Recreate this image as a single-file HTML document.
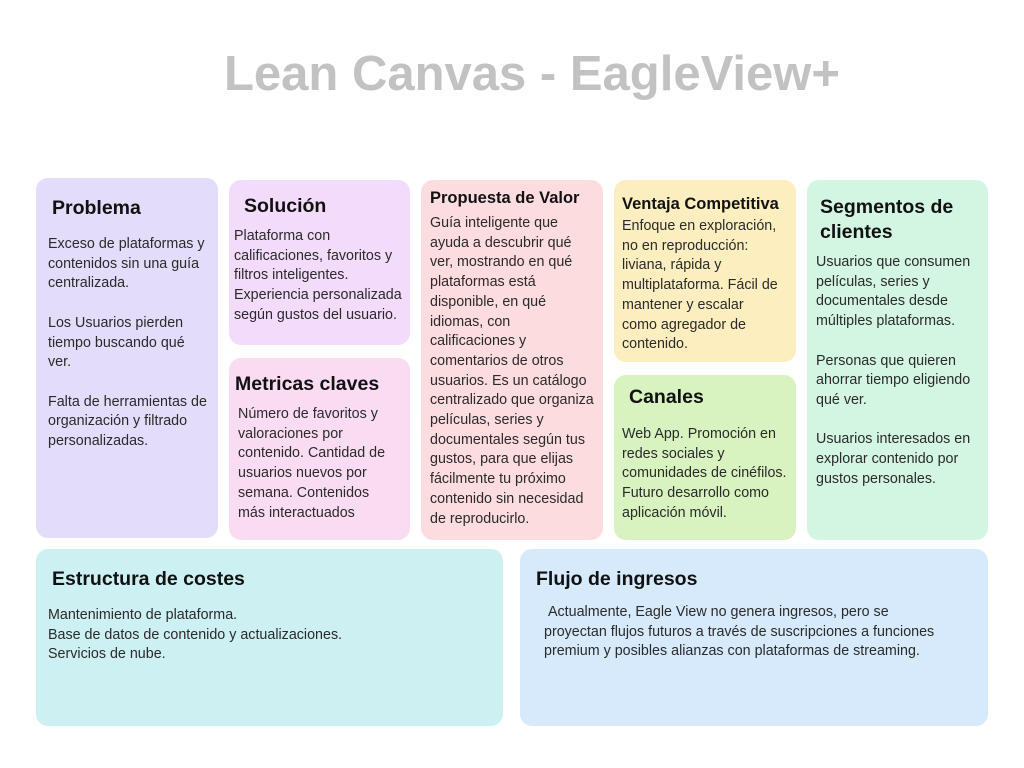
<!DOCTYPE html>
<html><head><meta charset="utf-8"><style>
body{margin:0;width:1024px;height:768px;background:#fff;position:relative;overflow:hidden;font-family:"Liberation Sans",sans-serif;color:#222}
.box{position:absolute;border-radius:12px}
.h{position:absolute;font-weight:bold;color:#111;font-size:19.5px;white-space:nowrap}
.t{position:absolute;font-size:14.3px;line-height:19.7px;white-space:nowrap;color:#2a2a2a}
#title{position:absolute;left:0;width:1064px;text-align:center;top:46px;font-size:49px;font-weight:bold;color:#c2c2c2}
</style></head><body>
<div id="title">Lean Canvas - EagleView+</div>

<div class="box" style="left:36px;top:178px;width:182px;height:360px;background:#e3dcfb"></div>
<div class="h" style="left:52px;top:197px">Problema</div>
<div class="t" style="left:48px;top:235px">Exceso de plataformas y<br>contenidos sin una guía<br>centralizada.<br><br>Los Usuarios pierden<br>tiempo buscando qué<br>ver.<br><br>Falta de herramientas de<br>organización y filtrado<br>personalizadas.</div>

<div class="box" style="left:229px;top:180px;width:181px;height:165px;background:#f3dcfb"></div>
<div class="h" style="left:244px;top:195px">Solución</div>
<div class="t" style="left:234px;top:227px">Plataforma con<br>calificaciones, favoritos y<br>filtros inteligentes.<br>Experiencia personalizada<br>según gustos del usuario.</div>

<div class="box" style="left:229px;top:358px;width:181px;height:182px;background:#fadcf2"></div>
<div class="h" style="left:235px;top:373px">Metricas claves</div>
<div class="t" style="left:238px;top:405px">Número de favoritos y<br>valoraciones por<br>contenido. Cantidad de<br>usuarios nuevos por<br>semana. Contenidos<br>más interactuados</div>

<div class="box" style="left:421px;top:180px;width:182px;height:360px;background:#fddcdf"></div>
<div class="h" style="left:430px;top:189px;font-size:16.5px">Propuesta de Valor</div>
<div class="t" style="left:430px;top:214px">Guía inteligente que<br>ayuda a descubrir qué<br>ver, mostrando en qué<br>plataformas está<br>disponible, en qué<br>idiomas, con<br>calificaciones y<br>comentarios de otros<br>usuarios. Es un catálogo<br>centralizado que organiza<br>películas, series y<br>documentales según tus<br>gustos, para que elijas<br>fácilmente tu próximo<br>contenido sin necesidad<br>de reproducirlo.</div>

<div class="box" style="left:614px;top:180px;width:182px;height:182px;background:#fdeec0"></div>
<div class="h" style="left:622px;top:195px;font-size:16.5px">Ventaja Competitiva</div>
<div class="t" style="left:622px;top:217px">Enfoque en exploración,<br>no en reproducción:<br>liviana, rápida y<br>multiplataforma. Fácil de<br>mantener y escalar<br>como agregador de<br>contenido.</div>

<div class="box" style="left:614px;top:375px;width:182px;height:165px;background:#d8f3c0"></div>
<div class="h" style="left:629px;top:386px">Canales</div>
<div class="t" style="left:622px;top:425px">Web App. Promoción en<br>redes sociales y<br>comunidades de cinéfilos.<br>Futuro desarrollo como<br>aplicación móvil.</div>

<div class="box" style="left:807px;top:180px;width:181px;height:360px;background:#d2f6e2"></div>
<div class="h" style="left:820px;top:195px;line-height:25px">Segmentos de<br>clientes</div>
<div class="t" style="left:816px;top:253px">Usuarios que consumen<br>películas, series y<br>documentales desde<br>múltiples plataformas.<br><br>Personas que quieren<br>ahorrar tiempo eligiendo<br>qué ver.<br><br>Usuarios interesados en<br>explorar contenido por<br>gustos personales.</div>

<div class="box" style="left:36px;top:549px;width:467px;height:177px;background:#cdf0f3"></div>
<div class="h" style="left:52px;top:568px">Estructura de costes</div>
<div class="t" style="left:48px;top:606px">Mantenimiento de plataforma.<br>Base de datos de contenido y actualizaciones.<br>Servicios de nube.</div>

<div class="box" style="left:520px;top:549px;width:468px;height:177px;background:#d6eafc"></div>
<div class="h" style="left:536px;top:568px">Flujo de ingresos</div>
<div class="t" style="left:544px;top:603px">&nbsp;Actualmente, Eagle View no genera ingresos, pero se<br>proyectan flujos futuros a través de suscripciones a funciones<br>premium y posibles alianzas con plataformas de streaming.</div>
</body></html>
